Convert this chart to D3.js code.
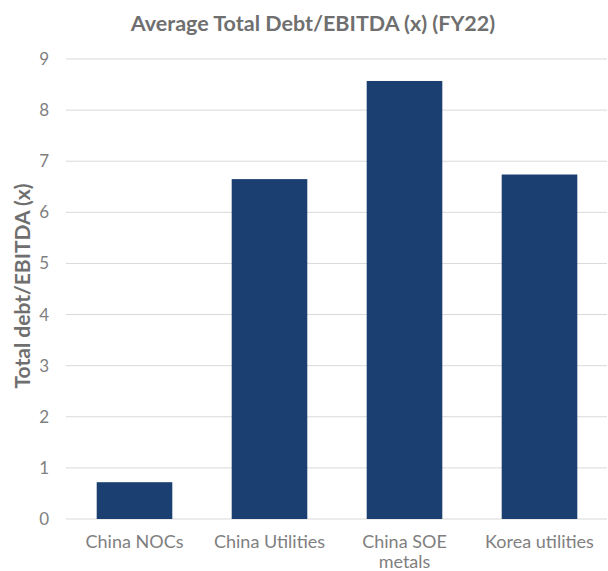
<!DOCTYPE html>
<html><head><meta charset="utf-8">
<script src="https://cdn.jsdelivr.net/npm/d3@7"></script>
<style>body{margin:0;background:#fff;} svg{display:block;}</style>
</head><body>
<svg id="c" width="608" height="571"></svg>
<script>
const categories = ["China NOCs", "China Utilities", "China SOE metals", "Korea utilities"];
const categoryLines = [["China NOCs"], ["China Utilities"], ["China SOE", "metals"], ["Korea utilities"]];
const values = [0.72, 6.65, 8.57, 6.74];
const yTicks = [0,1,2,3,4,5,6,7,8,9];
const title = "Average Total Debt/EBITDA (x) (FY22)";
const yTitle = "Total debt/EBITDA (x)";

const svg = d3.select("#c");
const font = "Lato, 'Open Sans', sans-serif";
const x = d3.scaleBand().domain(categories).range([67, 607]).paddingInner(0.44).paddingOuter(0.22);
const y = d3.scaleLinear().domain([0, 9]).range([519, 59]);

// gridlines
svg.append("g").selectAll("line").data(yTicks).join("line")
  .attr("x1", 66).attr("x2", 607)
  .attr("y1", d => y(d)).attr("y2", d => y(d))
  .attr("stroke", "#d9d9d9").attr("stroke-width", 1);

// y tick labels
svg.append("g").selectAll("text").data(yTicks).join("text")
  .attr("x", 49).attr("y", d => y(d)).attr("dy", "0.35em")
  .attr("text-anchor", "end")
  .attr("font-family", font).attr("font-size", 17).attr("fill", "#7f7f7f")
  .text(d => d);

// bars
svg.append("g").selectAll("rect").data(values).join("rect")
  .attr("x", (d, i) => x(categories[i]))
  .attr("width", x.bandwidth())
  .attr("y", d => y(d))
  .attr("height", d => y(0) - y(d))
  .attr("fill", "#1b3f71");

// x labels (separate text per line)
const xg = svg.append("g");
categories.forEach((c, i) => {
  categoryLines[i].forEach((line, j) => {
    xg.append("text")
      .attr("x", x(c) + x.bandwidth() / 2)
      .attr("y", 548 + j * 20)
      .attr("text-anchor", "middle")
      .attr("font-family", font).attr("font-size", 18).attr("fill", "#7f7f7f")
      .text(line);
  });
});

// title
svg.append("text").attr("x", 313).attr("y", 31).attr("text-anchor", "middle")
  .attr("font-family", font).attr("font-size", 21.5).attr("font-weight", "bold")
  .attr("fill", "#6f6f6f").text(title);

// y title
svg.append("text").attr("transform", "translate(30,286) rotate(-90)")
  .attr("text-anchor", "middle")
  .attr("font-family", font).attr("font-size", 21).attr("font-weight", "bold")
  .attr("fill", "#6f6f6f").text(yTitle);
</script>
</body></html>
